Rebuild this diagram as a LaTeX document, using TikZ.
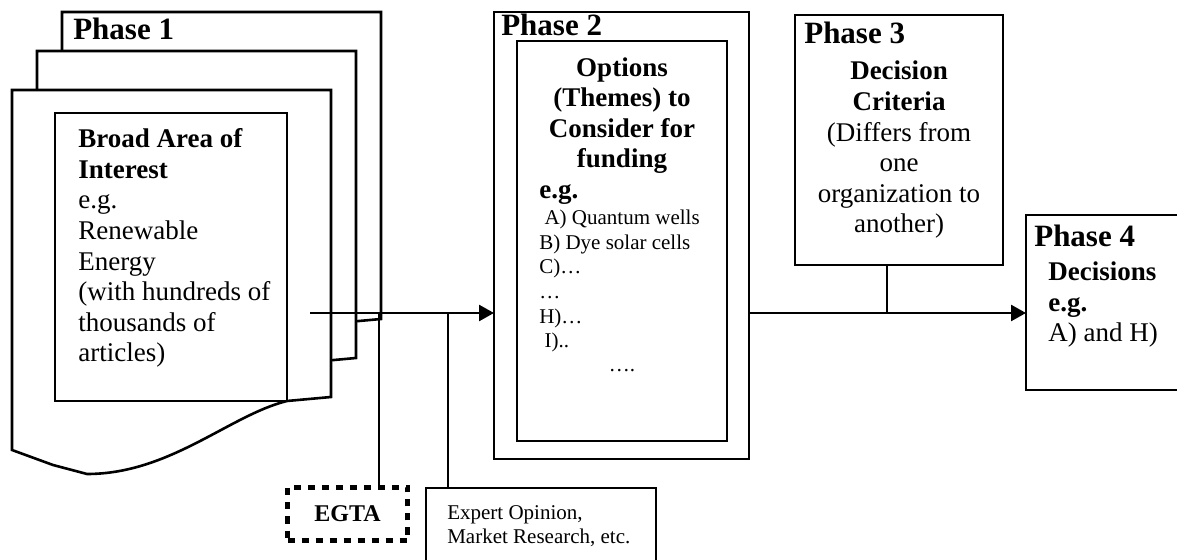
\documentclass[tikz,border=0pt]{standalone}
\usepackage{fontspec}
\setmainfont{Liberation Serif}
\usetikzlibrary{arrows.meta}

\tikzset{
  box/.style={draw, line width=1.3pt, fill=white, inner sep=0pt, outer sep=0pt, anchor=north west},
  phase/.style={font=\fontsize{15.5}{18}\selectfont\bfseries, inner sep=0pt, anchor=base west},
  big/.style={font=\fontsize{13.5}{15.3}\selectfont, inner sep=0pt},
  bigbf/.style={font=\fontsize{13.5}{15.3}\selectfont\bfseries, inner sep=0pt},
  small/.style={font=\fontsize{10.5}{12.35}\selectfont, inner sep=0pt},
  flow/.style={line width=1.3pt, -{Triangle[length=7.5pt,width=8pt]}}
}

\begin{document}
\begin{tikzpicture}[x=0.5pt,y=-0.5pt, line width=1.3pt]
    \useasboundingbox (0,0) rectangle (1177,560);
    \clip (0,0) rectangle (1177,560);

    % phase 1: a stack of three pages
    \foreach \dx/\dy in {50/-78, 25/-39, 0/0} {
        \begin{scope}[shift={(\dx,\dy)}]
        \filldraw[fill=white] (12,90) -- (331,90) -- (331,397) -- (287,401)
            .. controls (230,415) and (170,474) .. (87,474) -- (53,465) -- (12,450) -- cycle;
        \end{scope}
    }
    \node[phase] (ph1) at (72,40) {Phase 1};
    \node[box, minimum width=116pt, minimum height=144pt] (area) at (55,113) {};
    % multi-line texts sit on the baseline of their last line
    \node[big, align=left, anchor=base west] (areatxt) at (77,362)
        {\textbf{Broad Area of}\\\textbf{Interest}\\e.g.\\Renewable\\Energy\\(with hundreds of\\thousands of\\articles)};

    % phase 2
    \node[box, minimum width=127.5pt, minimum height=223.5pt] (p2) at (494,12) {};
    \node[box, minimum width=105pt, minimum height=200pt] (opts) at (517,41) {};
    \node[phase] (ph2) at (500,36) {Phase 2};
    \node[bigbf, align=center, anchor=base] (optstitle) at (622,168)
        {Options\\(Themes) to\\Consider for\\funding};
    \node[bigbf, anchor=base west] (optseg) at (538,199) {e.g.};
    \node[small, align=left, anchor=base west] (optlist) at (538,348)
        {\hspace*{0.25em}A) Quantum wells\\B) Dye solar cells\\C)…\\…\\H)…\\\hspace*{0.25em}I)..};
    \node[small, anchor=base] (optmore) at (622,372) {….};

    % phase 3
    \node[box, minimum width=104pt, minimum height=125pt] (crit) at (795,15) {};
    \node[phase] (ph3) at (803,44) {Phase 3};
    \node[big, align=center, anchor=base] (crittxt) at (899,233)
        {\textbf{Decision}\\\textbf{Criteria}\\(Differs from\\one\\organization to\\another)};

    % phase 4
    \node[box, minimum width=82pt, minimum height=87.5pt] (dec) at (1026,215) {};
    \node[phase] (ph4) at (1033,247) {Phase 4};
    \node[big, align=left, anchor=base west] (dectxt) at (1047,342)
        {\textbf{Decisions}\\\textbf{e.g.}\\A) and H)};

    % inputs
    \node[draw, line width=2.5pt, dash pattern=on 3.5pt off 3.5pt, inner sep=0pt, anchor=north west,
        minimum width=60pt, minimum height=26.5pt, font=\fontsize{12}{14}\selectfont\bfseries] (egta) at (285,485) {EGTA};
    \node[box, minimum width=115pt, minimum height=43.5pt] (expert) at (426,488) {};
    \node[small, align=left, anchor=base west] (experttxt) at (446,544)
        {Expert Opinion,\\Market Research, etc.};

    % connectors
    \coordinate (start) at (310,313);
    \coordinate (egtatop) at (379,485);
    \coordinate (exptop) at (448,488);
    \coordinate (critbot) at (887,265);
    \draw[flow] (start) -- (start -| p2.west);
    \draw (egtatop) -- (egtatop |- start);
    \draw (exptop) -- (exptop |- start);
    \draw[flow] (start -| p2.east) -- (start -| dec.west);
    \draw (critbot) -- (critbot |- start);
\end{tikzpicture}
\end{document}
